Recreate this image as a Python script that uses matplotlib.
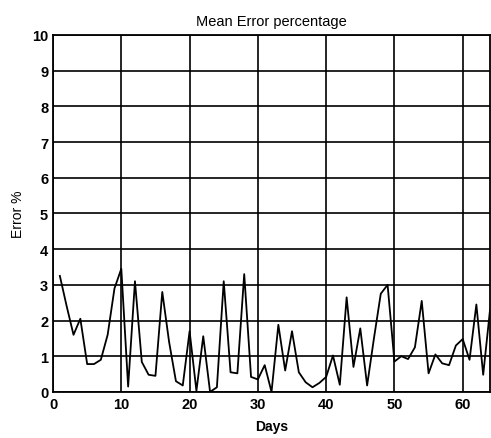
import matplotlib.pyplot as plt
import numpy as np

plt.rcParams['font.family'] = ['Liberation Sans', 'DejaVu Sans']

days = np.arange(1, 65)
error_pct = [3.25, 2.4, 1.6, 2.05, 0.78, 0.78, 0.9, 1.6, 2.9, 3.45,
             0.15, 3.1, 0.84, 0.48, 0.45, 2.8, 1.4, 0.3, 0.18, 1.7,
             0.03, 1.56, 0.0, 0.13, 3.1, 0.55, 0.52, 3.3, 0.42, 0.35,
             0.75, 0.0, 1.88, 0.6, 1.7, 0.55, 0.27, 0.13, 0.25, 0.42,
             1.02, 0.2, 2.65, 0.7, 1.78, 0.18, 1.5, 2.75, 3.0, 0.85,
             1.0, 0.92, 1.25, 2.55, 0.52, 1.05, 0.8, 0.75, 1.3, 1.48,
             0.9, 2.45, 0.48, 2.3]
xticks = [0, 10, 20, 30, 40, 50, 60]
yticks = list(range(0, 11))

fig = plt.figure(figsize=(4.91, 4.39), dpi=100)
ax = fig.add_axes([0.108, 0.105, 0.89, 0.813])

ax.plot(days, error_pct, color='black', linewidth=1.3)

ax.set_xlim(0, 64)
ax.set_ylim(0, 10)
ax.set_xticks(xticks)
ax.set_yticks(yticks)
ax.grid(True, color='black', linewidth=1.2, linestyle='-')
ax.tick_params(direction='in', length=0, labelsize=10.5)
for lbl in ax.get_xticklabels() + ax.get_yticklabels():
    lbl.set_fontweight('bold')
for s in ax.spines.values():
    s.set_linewidth(1.3)

ax.set_title('Mean Error percentage', fontsize=10.5, pad=7)
ax.set_xlabel('Days', fontsize=10, fontweight='bold', labelpad=6)
ax.set_ylabel('Error %', fontsize=10, labelpad=5)

fig.savefig('out.png', dpi=100)
